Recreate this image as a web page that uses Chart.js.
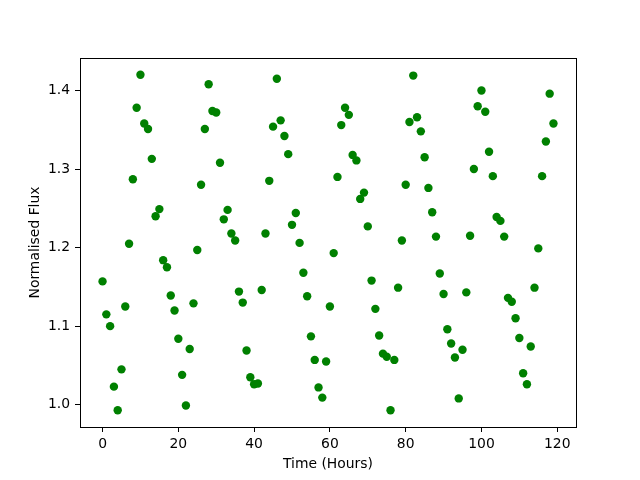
<!DOCTYPE html>
<html>
<head>
<meta charset="utf-8">
<script src="https://cdn.jsdelivr.net/npm/chart.js@4"></script>
<style>
  body { margin: 0; background: #fff; }
  #grafico { display: block; }
</style>
</head>
<body>
<canvas id="grafico" width="640" height="480"></canvas>
<script>
// hours of observation
const hours = [
  0, 1, 2, 3, 4, 5, 6, 7, 8, 9, 10, 11, 12, 13, 14, 15, 16, 17, 18, 19,
  20, 21, 22, 23, 24, 25, 26, 27, 28, 29, 30, 31, 32, 33, 34, 35, 36, 37, 38, 39,
  40, 41, 42, 43, 44, 45, 46, 47, 48, 49, 50, 51, 52, 53, 54, 55, 56, 57, 58, 59,
  60, 61, 62, 63, 64, 65, 66, 67, 68, 69, 70, 71, 72, 73, 74, 75, 76, 77, 78, 79,
  80, 81, 82, 83, 84, 85, 86, 87, 88, 89, 90, 91, 92, 93, 94, 95, 96, 97, 98, 99,
  100, 101, 102, 103, 104, 105, 106, 107, 108, 109, 110, 111, 112, 113, 114, 115, 116, 117, 118, 119
];

// normalised flux
const flux = [
  1.157, 1.115, 1.100, 1.023, 0.993, 1.045, 1.125, 1.205, 1.287, 1.378,
  1.420, 1.358, 1.351, 1.313, 1.240, 1.249, 1.184, 1.175, 1.139, 1.120,
  1.084, 1.038, 0.999, 1.071, 1.129, 1.197, 1.280, 1.351, 1.408, 1.374,
  1.372, 1.308, 1.236, 1.248, 1.218, 1.209, 1.144, 1.130, 1.069, 1.035,
  1.026, 1.027, 1.146, 1.218, 1.285, 1.354, 1.415, 1.362, 1.342, 1.319,
  1.229, 1.244, 1.206, 1.168, 1.138, 1.087, 1.057, 1.022, 1.009, 1.055,
  1.125, 1.193, 1.290, 1.356, 1.378, 1.369, 1.318, 1.311, 1.262, 1.270,
  1.227, 1.158, 1.122, 1.088, 1.065, 1.061, 0.993, 1.057, 1.149, 1.209,
  1.280, 1.360, 1.419, 1.366, 1.348, 1.315, 1.276, 1.245, 1.214, 1.167,
  1.141, 1.096, 1.078, 1.060, 1.008, 1.070, 1.143, 1.215, 1.300, 1.380,
  1.400, 1.373, 1.322, 1.291, 1.239, 1.234, 1.214, 1.136, 1.131, 1.110,
  1.085, 1.040, 1.026, 1.074, 1.149, 1.199, 1.291, 1.335, 1.396, 1.358
];

const xTicks = [0, 20, 40, 60, 80, 100, 120];
const yTicks = [1.0, 1.1, 1.2, 1.3, 1.4];

const fuente = { family: "'DejaVu Sans', sans-serif", size: 13.9 };

// black frame around the plot area
const marco = {
  id: "marco",
  afterDraw(chart) {
    const a = chart.chartArea;
    const c = chart.ctx;
    c.save();
    c.strokeStyle = "#000";
    c.lineWidth = 1;
    c.strokeRect(Math.round(a.left) + 0.5, Math.round(a.top) + 0.5,
      Math.round(a.right - a.left), Math.round(a.bottom - a.top));
    c.restore();
  }
};

const ctx = document.getElementById("grafico").getContext("2d");
new Chart(ctx, {
  type: "scatter",
  data: {
    datasets: [{
      data: hours.map((h, i) => ({ x: h, y: flux[i] })),
      backgroundColor: "#008000",
      borderColor: "#008000",
      borderWidth: 0,
      pointRadius: 4.2,
      pointHoverRadius: 4.2
    }]
  },
  options: {
    responsive: false,
    animation: false,
    layout: { padding: { top: 58, right: 64, left: 0, bottom: 0 } },
    plugins: { legend: { display: false }, tooltip: { enabled: false } },
    scales: {
      x: {
        type: "linear",
        min: -5.95,
        max: 124.95,
        afterBuildTicks: s => { s.ticks = xTicks.map(v => ({ value: v })); },
        afterFit: s => { s.height = 53; },
        grid: { display: true, drawOnChartArea: false, drawTicks: true, tickLength: 5, color: "#000" },
        border: { display: true, color: "#000" },
        ticks: { color: "#000", font: fuente, padding: 4, maxRotation: 0 },
        title: { display: true, text: "Time (Hours)", color: "#000", font: fuente, padding: { top: 0, bottom: 7 } }
      },
      y: {
        type: "linear",
        min: 0.9716,
        max: 1.4414,
        afterBuildTicks: s => { s.ticks = yTicks.map(v => ({ value: v })); },
        afterFit: s => { s.width = 80; },
        grid: { display: true, drawOnChartArea: false, drawTicks: true, tickLength: 5, color: "#000" },
        border: { display: true, color: "#000" },
        ticks: { color: "#000", font: fuente, padding: 5, callback: v => v.toFixed(1) },
        title: { display: true, text: "Normalised Flux", color: "#000", font: fuente, padding: { top: 27, bottom: 0 } }
      }
    }
  },
  plugins: [marco]
});
</script>
</body>
</html>
